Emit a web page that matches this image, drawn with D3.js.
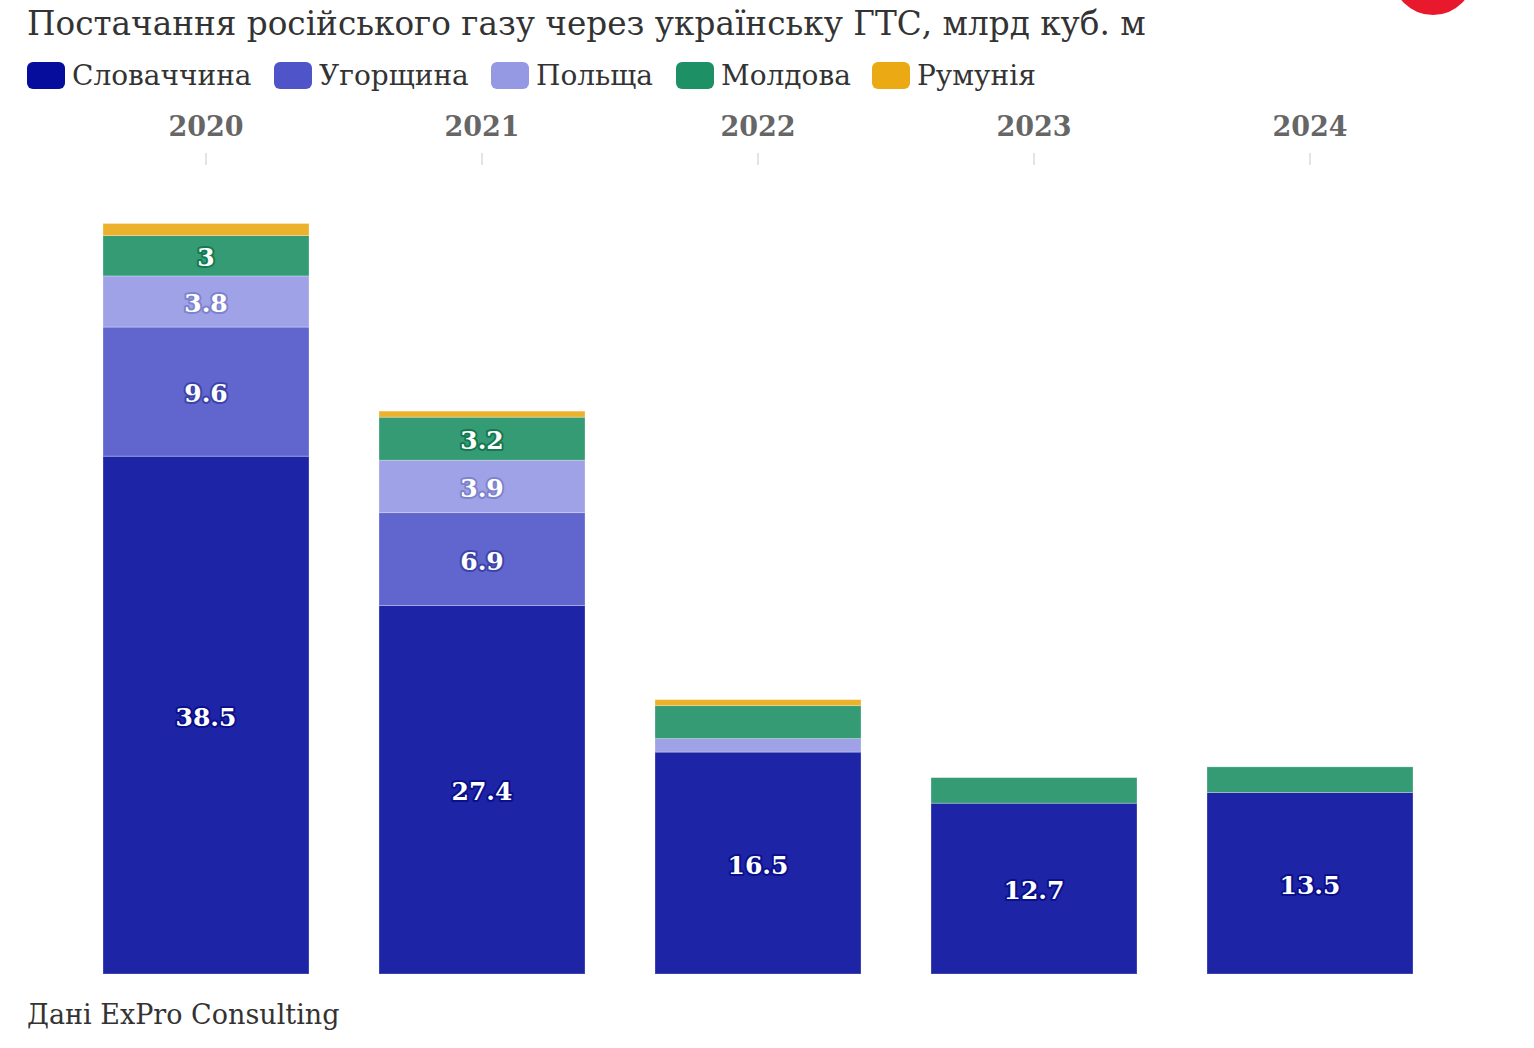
<!DOCTYPE html>
<html><head><meta charset="utf-8">
<script src="https://cdn.jsdelivr.net/npm/d3@7"></script>
<style>
body{margin:0;background:#fff;}
svg{display:block;font-family:"DejaVu Serif",serif;}
</style></head><body>
<svg id="c" width="1534" height="1048"></svg>
<script>
const years = ["2020","2021","2022","2023","2024"];
const seriesNames = ["Словаччина","Угорщина","Польща","Молдова","Румунія"];
const slovakia = [38.5, 27.4, 16.5, 12.7, 13.5];
const hungary  = [9.6, 6.9, 0, 0, 0];
const poland   = [3.8, 3.9, 1.0, 0, 0];
const moldova  = [3.0, 3.2, 2.45, 1.9, 1.9];
const romania  = [0.9, 0.45, 0.45, 0, 0];
const colors = ["#060c9c","#4f55c8","#9598e3","#1e9065","#ebaa14"];
const labelStroke = ["#0a108a","#3d44a8","#7f82cc","#16784f","#c08a0a"];
const title = "Постачання російського газу через українську ГТС, млрд куб. м";
const source = "Дані ExPro Consulting";

const svg = d3.select("#c");
const keys = ["s","h","p","m","r"];
const table = years.map((y,i)=>({year:y,s:slovakia[i],h:hungary[i],p:poland[i],m:moldova[i],r:romania[i]}));
const stacked = d3.stack().keys(keys)(table);

const x = d3.scaleBand().domain(years).range([68,1448]).paddingInner(0.2536).paddingOuter(0.1268);
const y = d3.scaleLinear().domain([0,60]).range([974, 974-60*13.45]);

// title
svg.append("text").attr("x",27).attr("y",35).attr("fill","#333")
  .style("font-size","32.7px").text(title);

// logo circle
svg.append("circle").attr("cx",1433).attr("cy",-26).attr("r",41).attr("fill","#e8192c");

// legend
const legX = [27,274,491,676,872];
const leg = svg.append("g");
seriesNames.forEach((n,i)=>{
  leg.append("rect").attr("x",legX[i]).attr("y",62).attr("width",38).attr("height",27).attr("rx",6).attr("fill",colors[i]);
  leg.append("text").attr("x",legX[i]+45).attr("y",85).attr("fill","#333").style("font-size","28px").text(n);
});

// axis top
const ax = svg.append("g").attr("transform","translate(0,165)")
  .call(d3.axisTop(x).tickSize(12).tickPadding(17));
ax.select(".domain").remove();
ax.selectAll(".tick line").attr("stroke","#e4e4e4").attr("stroke-width",2);
ax.selectAll(".tick text").attr("fill","#666").style("font-size","27px").style("font-weight","bold")
  .style("font-family","'DejaVu Serif',serif");

// bars
const g = svg.append("g");
stacked.forEach((layer,li)=>{
  const lg = g.append("g");
  lg.selectAll("rect").data(layer).join("rect")
    .attr("x",d=>x(d.data.year)).attr("width",x.bandwidth())
    .attr("y",d=>y(d[1])).attr("height",d=>Math.max(0,y(d[0])-y(d[1])))
    .attr("fill",colors[li]).attr("fill-opacity",0.9)
    .attr("stroke","#ffffff").attr("stroke-opacity",0.35).attr("stroke-width",0.8);
  lg.selectAll("text").data(layer.filter(d=>(y(d[0])-y(d[1]))>36)).join("text")
    .attr("x",d=>x(d.data.year)+x.bandwidth()/2)
    .attr("y",d=>(y(d[0])+y(d[1]))/2 + 2)
    .attr("text-anchor","middle").attr("dominant-baseline","central")
    .attr("fill","#fff").attr("stroke",labelStroke[li]).attr("stroke-width",4)
    .attr("stroke-linejoin","round").style("paint-order","stroke")
    .style("font-size","25px").style("font-weight","bold")
    .text(d=>String(+(d[1]-d[0]).toFixed(1)));
});

// source
svg.append("text").attr("x",27).attr("y",1024).attr("fill","#333").style("font-size","27px").text(source);
</script>
</body></html>
